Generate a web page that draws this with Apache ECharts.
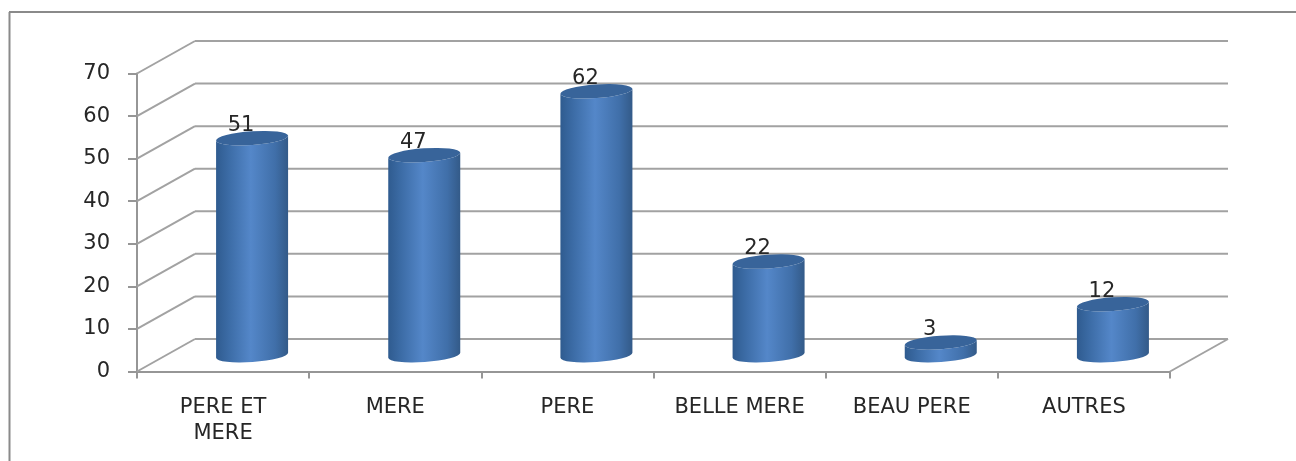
<!DOCTYPE html>
<html>
<head>
<meta charset="utf-8">
<style>html,body{margin:0;padding:0;background:#fff}#c{width:1296px;height:461px}</style>
<script src="https://cdn.jsdelivr.net/npm/echarts@6/dist/echarts.min.js"></script>
</head>
<body>
<div id="c"></div>
<script>
const categories = ['PERE ET\nMERE', 'MERE', 'PERE', 'BELLE MERE', 'BEAU PERE', 'AUTRES'];
const values = [51, 47, 62, 22, 3, 12];
const yTicks = [0, 10, 20, 30, 40, 50, 60, 70];

const DX = 58, DY = -32.5, RX = 36, RY = 6.8, ROT = -4;
const LINE = '#a2a2a2', AXIS = '#969696', TEXT = '#262626', FONT = 'DejaVu Sans';
const tilt = RX * Math.sin(-ROT * Math.PI / 180);

const chart = echarts.init(document.getElementById('c'), null, {renderer: 'canvas'});

function renderWall(params, api) {
  const cs = params.coordSys;
  const y = api.coord([0, api.value(1)])[1];
  const x0 = cs.x, x1 = cs.x + cs.width;
  const isFloor = api.value(1) === 0;
  const children = [
    {type: 'line', shape: {x1: x0, y1: y, x2: x0 + DX, y2: y + DY}, style: {stroke: LINE, lineWidth: 2}},
    {type: 'line', shape: {x1: x0 + DX, y1: y + DY, x2: x1 + DX, y2: y + DY}, style: {stroke: LINE, lineWidth: 2}}
  ];
  if (isFloor) {
    children.push({type: 'line', shape: {x1: x1, y1: y, x2: x1 + DX, y2: y + DY}, style: {stroke: LINE, lineWidth: 2}});
  }
  return {type: 'group', silent: true, children};
}

function renderCylinder(params, api) {
  const top = api.coord([api.value(0), api.value(1)]);
  const base = api.coord([api.value(0), 0]);
  const cx = top[0] + DX / 2;
  const yTop = top[1] + DY / 2;
  const yBase = base[1] + DY / 2;
  const arc = `A ${RX} ${RY} ${ROT} 0`;
  const body = `M ${cx - RX} ${yTop + tilt} L ${cx - RX} ${yBase + tilt} ${arc} 0 ${cx + RX} ${yBase - tilt} L ${cx + RX} ${yTop - tilt} ${arc} 1 ${cx - RX} ${yTop + tilt} Z`;
  const lid = `M ${cx - RX} ${yTop + tilt} ${arc} 0 ${cx + RX} ${yTop - tilt} ${arc} 0 ${cx - RX} ${yTop + tilt} Z`;
  return {
    type: 'group', silent: true,
    children: [
      {type: 'path', shape: {pathData: body}, style: {
        fill: new echarts.graphic.LinearGradient(0, 0, 1, 0, [
          {offset: 0, color: '#2f5b8f'},
          {offset: 0.18, color: '#3c6ca6'},
          {offset: 0.48, color: '#5487c9'},
          {offset: 0.82, color: '#406fa9'},
          {offset: 1, color: '#335a88'}
        ])
      }},
      {type: 'path', shape: {pathData: lid}, style: {fill: '#38649a'}},
      {type: 'text', style: {
        text: String(api.value(1)), x: cx - 11, y: yTop - 13,
        align: 'center', verticalAlign: 'middle',
        font: `21px "${FONT}"`, fill: TEXT
      }}
    ]
  };
}

chart.setOption({
  animation: false,
  backgroundColor: '#ffffff',
  grid: {left: 137, right: 126, top: 73.5, height: 298},
  xAxis: {
    type: 'category', data: categories,
    axisLine: {lineStyle: {color: AXIS, width: 2}},
    axisTick: {show: true, alignWithLabel: false, length: 7, lineStyle: {color: AXIS, width: 2}},
    axisLabel: {margin: 23, fontFamily: FONT, fontSize: 21, color: TEXT, lineHeight: 26, interval: 0}
  },
  yAxis: {
    type: 'value', min: 0, max: 70, interval: 10,
    axisLine: {show: true, lineStyle: {color: AXIS, width: 2}},
    axisTick: {show: true, length: 9, lineStyle: {color: AXIS, width: 2}},
    axisLabel: {margin: 27, fontFamily: FONT, fontSize: 21, color: TEXT},
    splitLine: {show: false}
  },
  graphic: [
    {type: 'line', silent: true, shape: {x1: 9.5, y1: 12, x2: 9.5, y2: 461}, style: {stroke: '#8a8a8a', lineWidth: 2}},
    {type: 'line', silent: true, shape: {x1: 9, y1: 12, x2: 1296, y2: 12}, style: {stroke: '#8a8a8a', lineWidth: 2}}
  ],
  series: [
    {type: 'custom', z: 1, renderItem: renderWall, data: yTicks.map(v => [0, v]), silent: true},
    {type: 'custom', z: 3, renderItem: renderCylinder, data: values.map((v, i) => [i, v]), silent: true}
  ]
});
</script>
</body>
</html>
